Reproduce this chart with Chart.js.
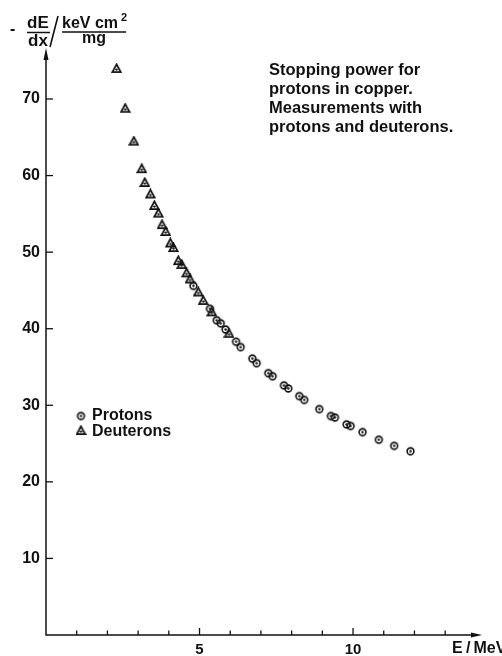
<!DOCTYPE html>
<html>
<head>
<meta charset="utf-8">
<script src="https://cdn.jsdelivr.net/npm/chart.js@4"></script>
<style>
  html, body { margin: 0; padding: 0; background: #fff; }
  canvas { display: block; }
</style>
</head>
<body>
<canvas id="stoppingChart" width="502" height="656"></canvas>
<script>
const protonEnergy = [4.80, 5.34, 5.56, 5.69, 5.85, 6.19, 6.34, 6.72, 6.86, 7.24, 7.38, 7.75,
    7.89, 8.25, 8.41, 8.90, 9.28, 9.41, 9.79, 9.92, 10.31, 10.84, 11.34, 11.87];
const protonStopping = [45.6, 42.6, 41.1, 40.7, 39.9, 38.3, 37.6, 36.1, 35.5, 34.2, 33.8, 32.6,
    32.2, 31.2, 30.7, 29.5, 28.6, 28.4, 27.5, 27.3, 26.5, 25.5, 24.7, 24.0];
const deuteronEnergy = [2.30, 2.58, 2.86, 3.12, 3.22, 3.40, 3.53, 3.66, 3.78, 3.90, 4.05, 4.15,
    4.31, 4.42, 4.58, 4.69, 4.96, 5.12, 5.40, 5.96];
const deuteronStopping = [74.0, 68.8, 64.5, 60.9, 59.1, 57.6, 56.1, 55.1, 53.6, 52.7, 51.2, 50.6,
    48.9, 48.4, 47.3, 46.5, 44.8, 43.7, 42.2, 39.4];

const xTickLabels = [5, 10];
const yTickLabels = [10, 20, 30, 40, 50, 60, 70];
const legendLabels = ['Protons', 'Deuterons'];
const noteLines = ['Stopping power for', 'protons in copper.', 'Measurements with', 'protons and deuterons.'];

const FONT = '"Liberation Sans", Arial, sans-serif';
const INK = '#111';

// Small marker images: ring with a dot, triangle with a dot
function makeMarker(kind) {
    const c = document.createElement('canvas');
    c.width = 11;
    c.height = 11;
    const g = c.getContext('2d');
    g.strokeStyle = INK;
    g.fillStyle = INK;
    g.lineWidth = 1.6;
    if (kind === 'circle') {
        g.beginPath();
        g.arc(5.5, 5.5, 3.4, 0, Math.PI * 2);
        g.stroke();
        g.beginPath();
        g.arc(5.5, 5.5, 1.2, 0, Math.PI * 2);
        g.fill();
    } else {
        g.lineWidth = 1.8;
        g.beginPath();
        g.moveTo(5.5, 1.3);
        g.lineTo(9.7, 9.2);
        g.lineTo(1.3, 9.2);
        g.closePath();
        g.stroke();
        g.beginPath();
        g.arc(5.5, 6.6, 1.2, 0, Math.PI * 2);
        g.fill();
    }
    return c;
}
const circleMarker = makeMarker('circle');
const triangleMarker = makeMarker('triangle');

function toPoints(xs, ys) {
    return xs.map((x, i) => ({ x: x, y: ys[i] }));
}

// Axes with arrows, inward ticks, titles, legend and note
const decorPlugin = {
    id: 'decor',
    afterDraw(chart) {
        const g = chart.ctx;
        const xs = chart.scales.x;
        const ys = chart.scales.y;
        const x0 = xs.getPixelForValue(0);
        const y0 = ys.getPixelForValue(0);
        const xEnd = xs.getPixelForValue(xs.max);
        const yTop = ys.getPixelForValue(ys.max);

        g.save();
        g.strokeStyle = INK;
        g.fillStyle = INK;
        g.lineWidth = 1.5;

        g.beginPath();
        g.moveTo(x0, yTop + 4);
        g.lineTo(x0, y0);
        g.lineTo(xEnd - 4, y0);
        g.stroke();

        // arrow heads
        g.beginPath();
        g.moveTo(x0, yTop - 2);
        g.lineTo(x0 - 2.5, yTop + 10);
        g.lineTo(x0 + 2.5, yTop + 10);
        g.closePath();
        g.fill();
        g.beginPath();
        g.moveTo(xEnd, y0);
        g.lineTo(xEnd - 11, y0 - 2.5);
        g.lineTo(xEnd - 11, y0 + 2.5);
        g.closePath();
        g.fill();

        // ticks
        g.lineWidth = 1.3;
        for (let v = 1; v <= 13; v++) {
            const px = xs.getPixelForValue(v);
            const len = xTickLabels.includes(v) ? 7 : 4.5;
            g.beginPath();
            g.moveTo(px, y0);
            g.lineTo(px, y0 - len);
            g.stroke();
        }
        yTickLabels.forEach(v => {
            const py = ys.getPixelForValue(v);
            g.beginPath();
            g.moveTo(x0, py);
            g.lineTo(x0 + 7, py);
            g.stroke();
        });

        // y axis title: - dE/dx / keV cm^2/mg
        g.font = 'bold 16px ' + FONT;
        g.textBaseline = 'alphabetic';
        g.textAlign = 'left';
        g.fillText('-', 10, 34);
        g.font = 'bold 17px ' + FONT;
        g.fillText('dE', 27, 28);
        g.fillText('dx', 28, 46);
        g.font = 'bold 16px ' + FONT;
        g.fillText('keV cm', 62, 28);
        g.textAlign = 'center';
        g.fillText('mg', 94, 43);
        g.textAlign = 'left';
        g.font = 'bold 11px ' + FONT;
        g.fillText('2', 121, 21);
        g.lineWidth = 1.6;
        g.beginPath();
        g.moveTo(27, 32.5);
        g.lineTo(50, 32.5);
        g.moveTo(62, 32);
        g.lineTo(126, 32);
        g.moveTo(58, 16);
        g.lineTo(50, 47);
        g.stroke();

        // x axis title
        g.font = 'bold 16px ' + FONT;
        g.fillText('E\u2009/\u2009MeV', 452, 653);

        // note
        g.font = 'bold 16.5px ' + FONT;
        noteLines.forEach((line, i) => {
            g.fillText(line, 269, 75 + i * 19);
        });

        // legend
        const markers = [circleMarker, triangleMarker];
        g.font = 'bold 16px ' + FONT;
        g.textBaseline = 'middle';
        legendLabels.forEach((label, i) => {
            const ly = 416 + i * 16;
            g.drawImage(markers[i], 81 - 5.5, ly - 5.5 - (i ? 1.5 : 0));
            g.fillText(label, 92, ly);
        });

        g.restore();
    }
};

const ctx = document.getElementById('stoppingChart').getContext('2d');
const stoppingChart = new Chart(ctx, {
    type: 'scatter',
    data: {
        datasets: [{
            label: legendLabels[0],
            data: toPoints(protonEnergy, protonStopping),
            pointStyle: circleMarker,
            pointRadius: 5,
            showLine: false
        }, {
            label: legendLabels[1],
            data: toPoints(deuteronEnergy, deuteronStopping),
            pointStyle: triangleMarker,
            pointRadius: 5,
            showLine: false
        }]
    },
    options: {
        responsive: false,
        animation: false,
        events: [],
        clip: false,
        layout: {
            padding: { top: 50, right: 20, left: 0, bottom: 0 }
        },
        plugins: {
            legend: { display: false },
            tooltip: { enabled: false }
        },
        scales: {
            x: {
                type: 'linear',
                min: 0,
                max: 14.2,
                afterFit: scale => { scale.height = 21; },
                grid: { display: false, drawTicks: false },
                border: { display: false },
                ticks: {
                    stepSize: 1,
                    autoSkip: false,
                    maxRotation: 0,
                    padding: 6,
                    color: INK,
                    font: { family: FONT, size: 15, weight: 'bold' },
                    callback: v => xTickLabels.includes(v) ? String(v) : ''
                }
            },
            y: {
                type: 'linear',
                min: 0,
                max: 76.4,
                afterFit: scale => { scale.width = 46; },
                grid: { display: false, drawTicks: false },
                border: { display: false },
                ticks: {
                    stepSize: 10,
                    autoSkip: false,
                    padding: 6,
                    color: INK,
                    font: { family: FONT, size: 16, weight: 'bold' },
                    callback: v => yTickLabels.includes(v) ? String(v) : ''
                }
            }
        }
    },
    plugins: [decorPlugin]
});
</script>
</body>
</html>
